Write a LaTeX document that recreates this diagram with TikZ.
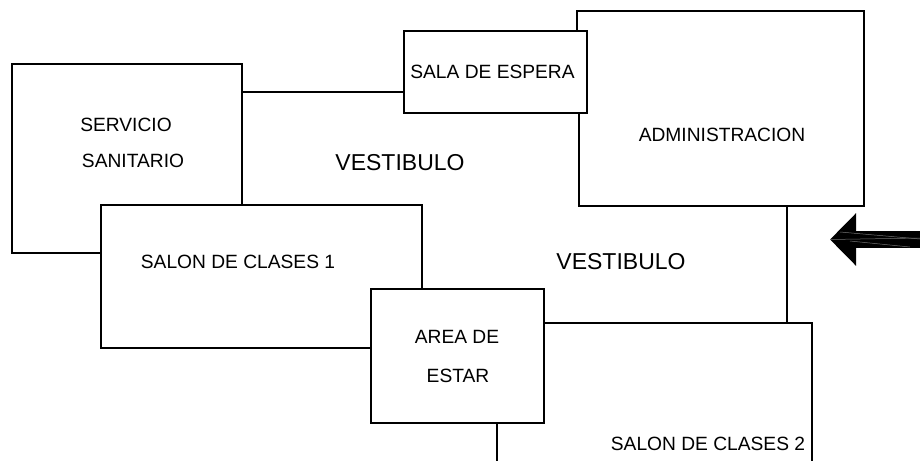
\documentclass[tikz,border=0pt]{standalone}
\usepackage{fontspec}
\setmainfont{Liberation Sans}
\usepackage{tikz}
\usetikzlibrary{calc}
\usetikzlibrary{arrows.meta}

\tikzset{
  wall/.style={line width=1.7pt, black, line join=miter},
  room/.style={draw, line width=1.7pt, inner sep=0pt, outer sep=0pt},
  roomlabel/.style={inner sep=0pt, font=\fontsize{19.2}{23}\selectfont},
  hall/.style={inner sep=0pt, font=\fontsize{23}{27}\selectfont},
  streak/.style={line width=0.5pt, black!55},
}

\begin{document}
\begin{tikzpicture}[x=1pt,y=-1pt]
    \useasboundingbox (0,0) rectangle (920,461);
    % closed rooms
    \node[room, minimum width=183pt, minimum height=82pt] (sala) at (495.5,72) {};
    \node[room, minimum width=173pt, minimum height=134pt] (area) at (457.5,356) {};
    % corners of the open rooms
    \coordinate (san a) at (242,205);
    \coordinate (san b) at (242,64);
    \coordinate (san c) at (12,64);
    \coordinate (san d) at (12,253);
    \coordinate (san e) at (101,253);
    \coordinate (san f) at (242,92);
    \coordinate (adm a) at (577,31);
    \coordinate (adm b) at (577,11);
    \coordinate (adm c) at (864,11);
    \coordinate (adm d) at (864,206);
    \coordinate (adm e) at (579,206);
    \coordinate (adm f) at (579,113);
    \coordinate (adm g) at (787,206);
    \coordinate (cl a) at (422,289);
    \coordinate (cl b) at (422,205);
    \coordinate (cl c) at (101,205);
    \coordinate (cl d) at (101,348);
    \coordinate (cl e) at (371,348);
    \coordinate (cd a) at (545,323);
    \coordinate (cd b) at (812,323);
    \coordinate (cd c) at (812,461);
    \coordinate (cd d) at (787,323);
    \coordinate (cd e) at (497,423);
    \coordinate (cd f) at (497,461);
    \coordinate (flecha a) at (920,239.5);
    \coordinate (flecha b) at (830,239.5);
    % walls
    \draw[wall] (san a) -- (san b) -- (san c) -- (san d) -- (san e);
    \draw[wall] (san f) -- (sala.west |- san f);
    \draw[wall] (adm a) -- (adm b) -- (adm c) -- (adm d) -- (adm e) -- (adm f);
    \draw[wall] (adm g) -- (cd d);
    \draw[wall] (cl a) -- (cl b) -- (cl c) -- (cl d) -- (cl e);
    \draw[wall] (cd a) -- (cd b) -- (cd c);
    \draw[wall] (cd e) -- (cd f);
    % entrance
    \draw[line width=17pt, -{Triangle[length=26pt,width=51pt]}] (flecha a) -- (flecha b);
    \draw[streak] (840,232) -- (920,239);
    \draw[streak] (flecha b) -- (920,238);
    \draw[streak] (850,241) -- (910,247);
    % labels
    \node[roomlabel] (servicio) at (126,124.5) {SERVICIO};
    \node[roomlabel] (sanitario) at (133,160.5) {SANITARIO};
    \node[roomlabel] (espera) at (492.5,72) {SALA DE ESPERA};
    \node[roomlabel] (administracion) at (722,134.5) {ADMINISTRACION};
    \node[roomlabel] (clases uno) at (238,261.5) {SALON DE CLASES 1};
    \node[roomlabel] (clases dos) at (708,443.5) {SALON DE CLASES 2};
    \node[roomlabel] (area de) at (457,336.5) {AREA DE};
    \node[roomlabel] (estar) at (458,375.5) {ESTAR};
    \node[hall] (vestibulo uno) at (400,162.5) {VESTIBULO};
    \node[hall] (vestibulo dos) at (621,261.5) {VESTIBULO};
\end{tikzpicture}
\end{document}
